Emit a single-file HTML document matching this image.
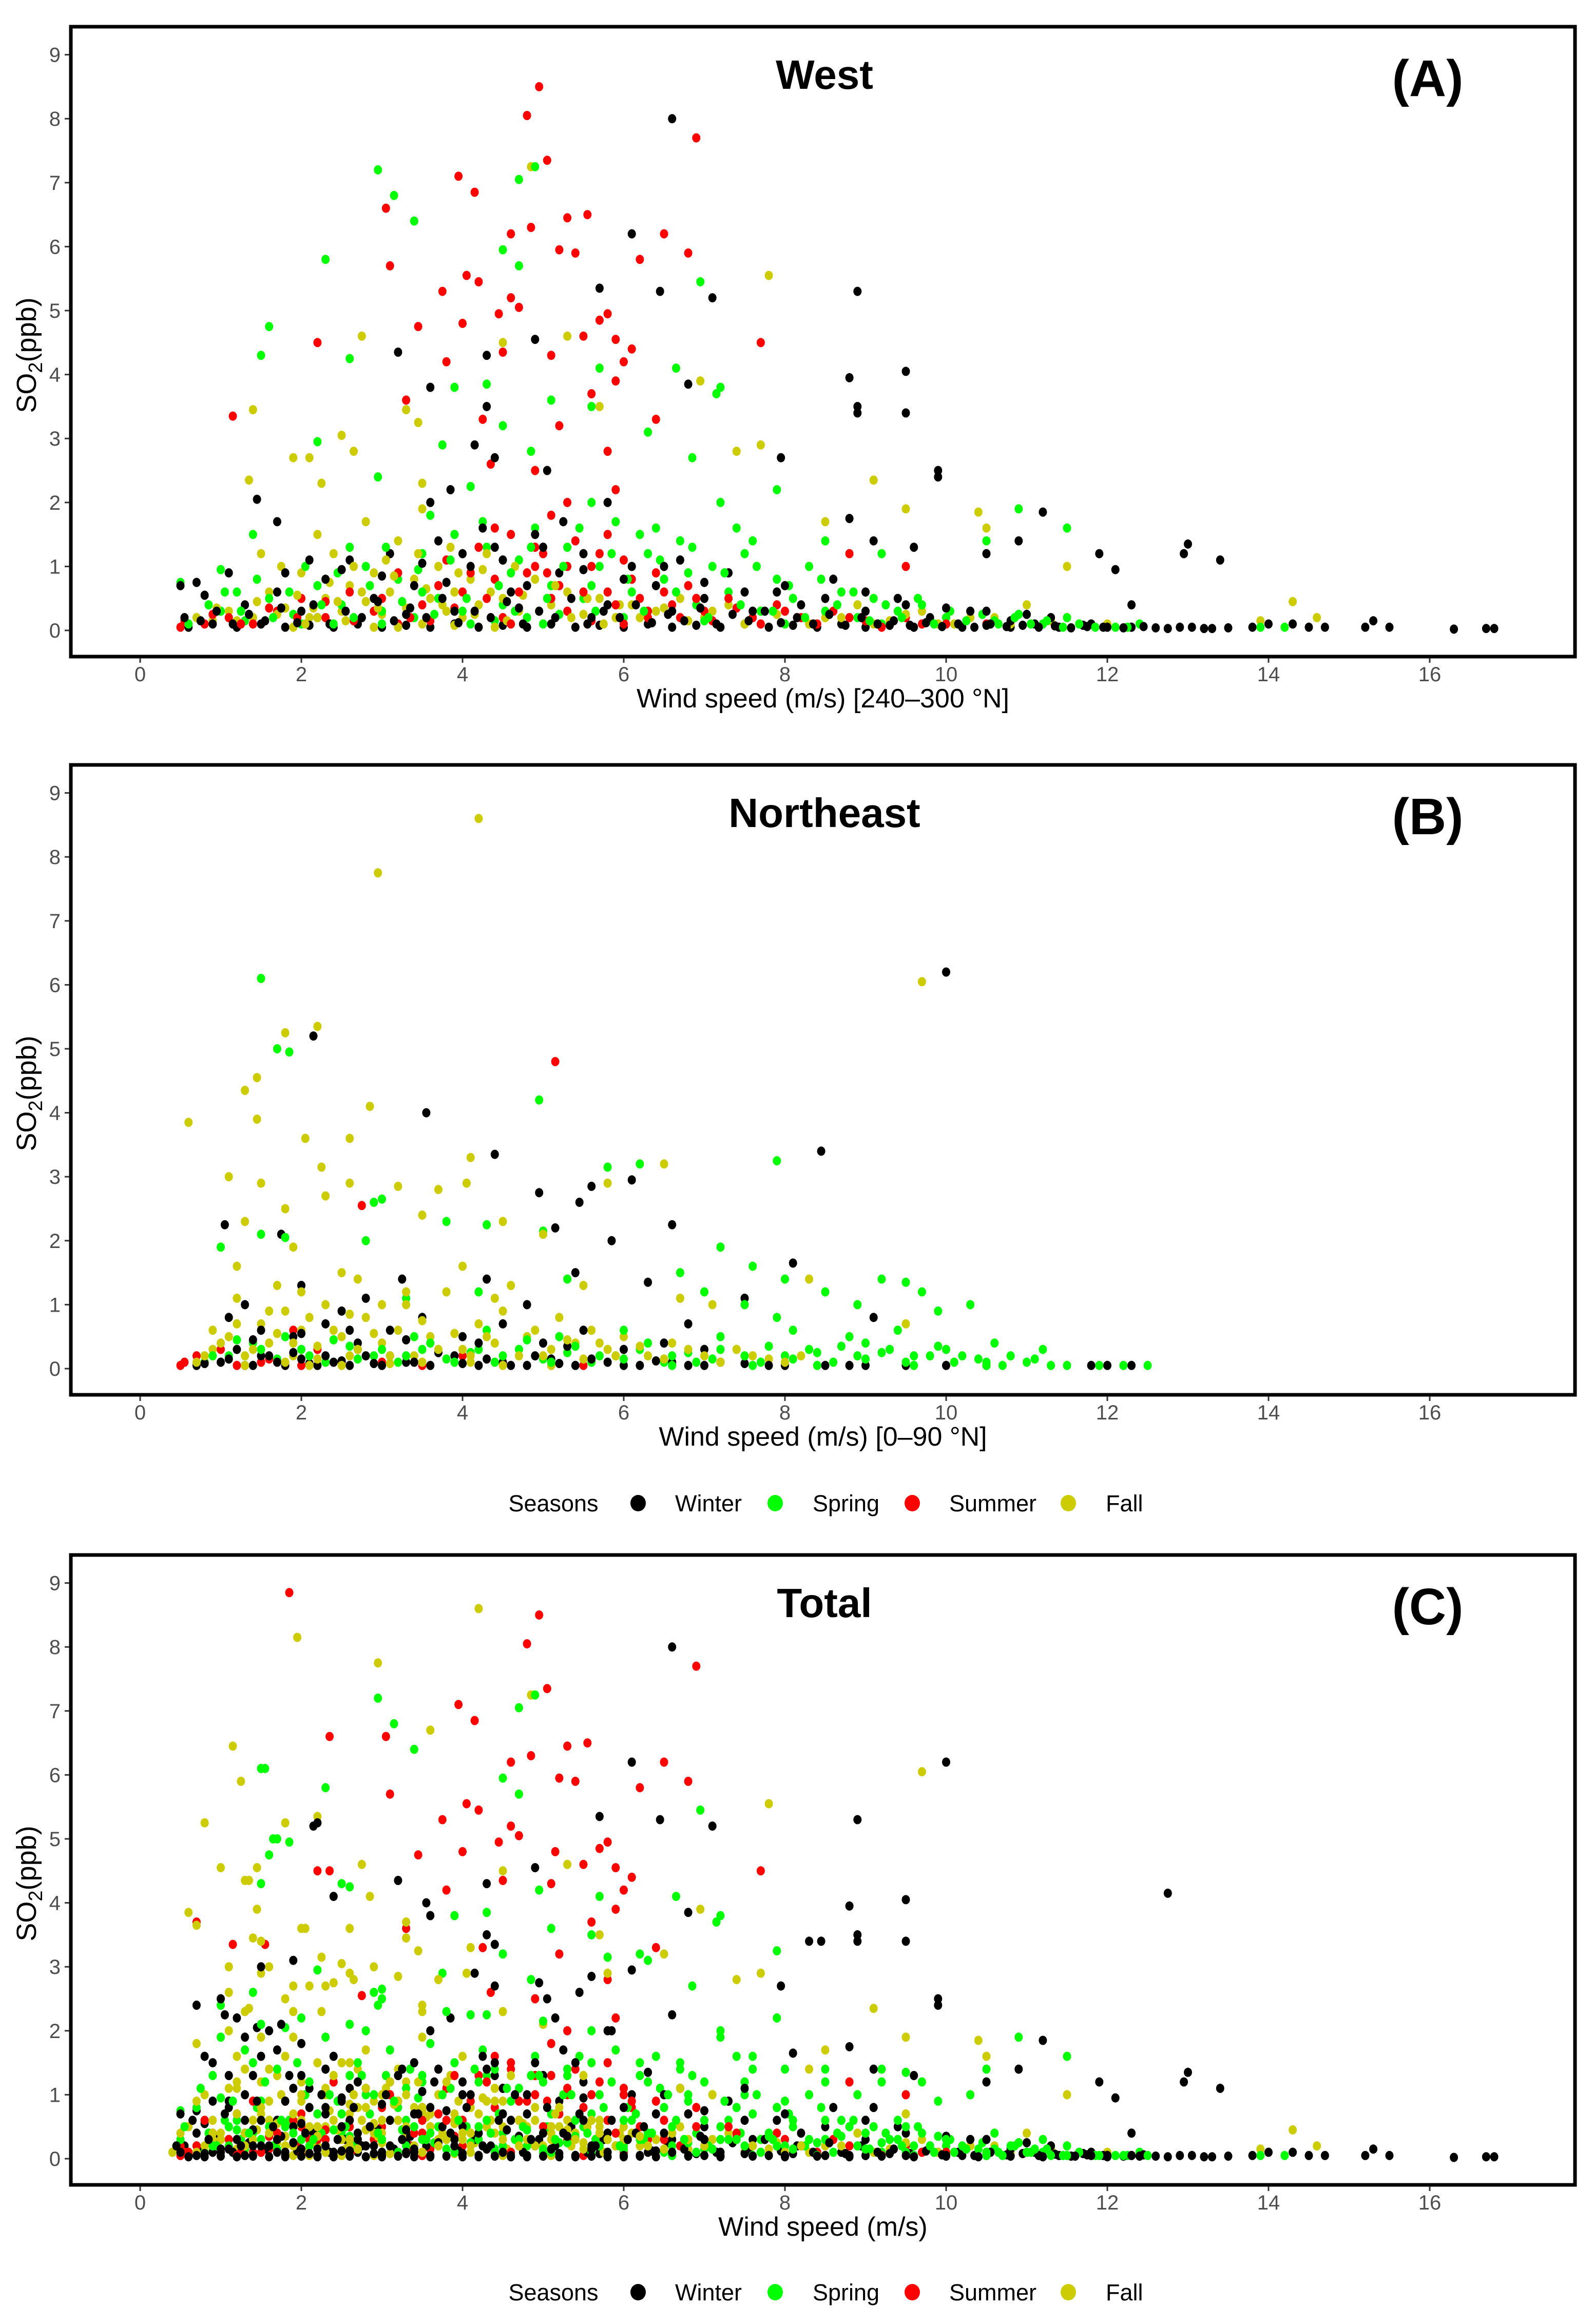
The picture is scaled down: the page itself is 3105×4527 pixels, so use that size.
<!DOCTYPE html>
<html><head><meta charset="utf-8"><style>
html,body{margin:0;padding:0;background:#fff}
svg{display:block}
text{font-family:"Liberation Sans",Arial,sans-serif}
</style></head><body>
<svg id="chart" width="3105" height="4527" viewBox="0 0 3105 4527" xmlns="http://www.w3.org/2000/svg">
<rect width="3105" height="4527" fill="#fff"/>
</svg>
<script>
// ---- data (wind speed m/s, SO2 ppb) ----
const seasons = ["Winter","Spring","Summer","Fall"];
const xTicks = [0,2,4,6,8,10,12,14,16];
const yTicks = [0,1,2,3,4,5,6,7,8,9];
const panelTitles = ["West","Northeast","Total"];
const panelTags = ["(A)","(B)","(C)"];
const xTitles = ["Wind speed (m/s) [240\u2013300 \u00b0N]","Wind speed (m/s) [0\u201390 \u00b0N]","Wind speed (m/s)"];

const winterA = "6.6 8.0;6.1 6.2;7.1 5.2;8.9 5.3;8.8 3.95;8.9 3.5;8.9 3.4;9.5 4.05;9.5 3.4;9.9 2.5;9.9 2.4;4.3 4.3;3.2 4.35;3.6 3.8;4.3 3.5;7.95 2.7;4.9 4.55;5.7 5.35;6.45 5.3;6.8 3.85;11.2 1.85;11.9 1.2;12.1 0.95;13.0 1.35;12.95 1.2;13.4 1.1;8.8 1.75;12.3 0.4;15.3 0.15;15.5 0.05;16.3 0.02;16.8 0.03;16.7 0.03;14.0 0.1;14.3 0.1;13.8 0.05;14.5 0.05;14.7 0.05;15.2 0.05;10.5 1.2;10.9 1.4;1.1 0.9;0.7 0.75;0.5 0.7;0.8 0.55;1.45 2.05;1.7 1.7;3.6 2.0;3.85 2.2;4.15 2.9;4.4 2.7;5.05 2.5;5.8 2.0;9.1 1.4;9.6 1.3;0.6 0.05;0.9 0.1;1.2 0.05;1.5 0.1;1.8 0.05;2.1 0.08;2.4 0.05;2.7 0.1;3.0 0.05;3.3 0.08;3.6 0.05;3.9 0.1;4.2 0.05;4.5 0.08;4.8 0.05;5.1 0.1;5.4 0.05;5.7 0.08;6.0 0.05;6.3 0.1;6.6 0.05;6.9 0.08;7.2 0.05;7.5 0.1;7.8 0.05;8.1 0.08;8.4 0.05;8.7 0.1;9.0 0.05;9.3 0.08;9.6 0.05;9.9 0.1;10.2 0.05;10.5 0.08;10.8 0.05;11.1 0.1;11.4 0.05;11.7 0.08;12.0 0.05;12.3 0.05;12.6 0.04;12.9 0.05;13.2 0.03;13.5 0.04;1.3 0.4;1.7 0.6;2.0 0.3;2.3 0.8;2.6 1.1;2.9 0.5;3.1 1.2;3.4 0.7;3.7 1.4;3.9 0.3;4.1 1.0;4.4 1.3;4.6 0.6;4.9 1.5;5.2 0.9;5.5 1.2;5.8 0.4;6.1 1.0;6.4 0.7;6.7 1.1;7.0 0.5;7.3 0.9;7.6 0.3;7.9 0.6;8.2 0.4;8.6 0.8;9.0 0.3;9.4 0.5;9.8 0.2;10.3 0.3;10.8 0.15;11.3 0.2;11.8 0.1;3.3 0.25;4.7 0.35;5.6 0.2;6.6 0.3;2.2 0.2";
const winterA2 = "0.55 0.2;0.75 0.15;0.95 0.3;1.15 0.1;1.35 0.25;1.55 0.15;1.75 0.35;1.95 0.12;2.15 0.4;2.35 0.1;2.55 0.3;2.75 0.2;2.95 0.45;3.15 0.15;3.35 0.35;3.55 0.2;3.75 0.5;3.95 0.12;4.15 0.3;4.35 0.2;4.55 0.45;4.75 0.1;4.95 0.3;5.15 0.2;5.35 0.5;5.55 0.1;5.75 0.3;5.95 0.2;6.15 0.4;6.35 0.12;6.55 0.25;6.75 0.15;6.95 0.35;7.15 0.1;7.35 0.25;7.55 0.15;7.75 0.3;7.95 0.12;8.15 0.2;8.35 0.1;8.55 0.25;8.75 0.08;8.95 0.2;9.15 0.1;9.35 0.15;9.55 0.08;9.75 0.12;9.95 0.06;10.15 0.1;10.35 0.05;10.55 0.1;10.75 0.06;10.95 0.08;11.15 0.05;11.35 0.07;11.55 0.04;11.75 0.06;11.95 0.05;12.2 0.04;12.45 0.06;12.75 0.03;13.05 0.05;13.3 0.03;2.5 0.95;3.0 0.85;3.5 1.05;4.0 1.2;4.5 1.1;5.0 1.3;5.5 0.95;6.0 0.8;6.5 1.0;7.0 0.75;7.5 0.6;8.0 0.7;8.5 0.5;9.0 0.6;9.5 0.4;10.0 0.35;10.5 0.3;11.0 0.25;1.8 0.9;2.1 1.1;4.25 1.6;5.25 1.7;3.8 0.75;4.8 0.7";
const springA = "2.95 7.2;3.15 6.8;3.4 6.4;4.7 7.05;4.9 7.25;2.3 5.8;1.6 4.75;1.5 4.3;2.6 4.25;5.7 4.1;6.65 4.1;7.2 3.8;7.15 3.7;6.95 5.45;4.5 5.95;4.7 5.7;3.9 3.8;4.3 3.85;4.5 3.2;5.1 3.6;3.75 2.9;4.85 2.8;5.6 3.5;6.3 3.1;2.2 2.95;2.95 2.4;4.1 2.25;6.85 2.7;7.2 2.0;7.9 2.2;10.9 1.9;10.5 1.4;11.5 1.6;1.0 0.95;1.4 1.5;0.5 0.75;8.5 1.4;9.2 1.2;13.9 0.05;14.2 0.05;12.4 0.1;0.7 0.2;1.0 0.3;1.3 0.15;1.6 0.5;1.9 0.25;2.2 0.7;2.5 0.4;2.8 1.0;3.0 0.3;3.2 0.8;3.5 1.2;3.7 0.5;3.9 1.5;4.1 0.9;4.3 1.3;4.5 0.4;4.7 1.1;4.9 1.6;5.1 0.7;5.3 1.3;5.5 0.5;5.7 1.0;5.9 1.7;6.1 0.6;6.3 1.2;6.5 0.8;6.7 1.4;6.9 0.4;7.1 1.0;7.3 0.6;7.5 1.2;7.7 0.3;7.9 0.8;8.1 0.5;8.3 1.0;8.5 0.3;8.7 0.6;8.9 0.2;9.1 0.5;9.4 0.3;9.7 0.4;10.0 0.2;10.3 0.3;10.6 0.15;10.9 0.25;11.2 0.1;11.5 0.2;11.8 0.1;12.1 0.05;2.0 0.1;3.4 0.2;4.4 0.15;5.2 0.25;6.0 0.2;7.0 0.15;8.0 0.1;9.2 0.1;1.2 0.6;2.6 1.3;3.6 1.8;4.8 0.2;6.4 1.6;5.6 2.0;7.4 1.6";
const springA2 = "0.6 0.1;0.85 0.4;1.05 0.6;1.25 0.3;1.45 0.8;1.65 0.2;1.85 0.6;2.05 1.0;2.25 0.4;2.45 0.9;2.65 0.2;2.85 0.7;3.05 1.3;3.25 0.45;3.45 0.95;3.65 0.25;3.85 1.1;4.05 0.5;4.25 1.7;4.45 0.7;4.65 0.3;4.85 1.3;5.05 0.5;5.25 1.0;5.45 1.6;5.65 0.3;5.85 1.2;6.05 0.8;6.25 0.3;6.45 1.1;6.65 0.6;6.85 1.3;7.05 0.2;7.25 0.9;7.45 0.4;7.65 1.0;7.85 0.3;8.05 0.7;8.25 0.2;8.45 0.8;8.65 0.4;8.85 0.6;9.05 0.15;9.25 0.4;9.45 0.2;9.65 0.5;9.85 0.1;10.05 0.3;10.25 0.15;10.45 0.25;10.65 0.1;10.85 0.2;11.05 0.1;11.25 0.15;11.45 0.05;11.65 0.1;11.85 0.05;12.25 0.05;3.5 0.6;4.0 0.3;4.6 0.9;5.6 0.7;6.2 1.5;6.8 0.9;7.6 1.4;5.0 0.1;4.1 0.1;3.0 0.1;2.4 0.1";
const summerA = "4.95 8.5;4.8 8.05;5.05 7.35;3.95 7.1;4.15 6.85;6.9 7.7;3.05 6.6;5.3 6.45;5.55 6.5;4.85 6.3;4.6 6.2;5.2 5.95;5.4 5.9;6.5 6.2;3.1 5.7;4.05 5.55;4.2 5.45;4.6 5.2;4.7 5.05;4.45 4.95;6.8 5.9;6.2 5.8;3.45 4.75;2.2 4.5;4.0 4.8;5.7 4.85;5.8 4.95;5.9 4.55;5.5 4.6;5.1 4.3;4.5 4.35;6.1 4.4;3.75 5.3;7.7 4.5;1.15 3.35;3.8 4.2;4.25 3.3;5.6 3.7;5.9 3.9;3.3 3.6;6.0 4.2;5.2 3.2;5.8 2.8;4.9 2.5;6.4 3.3;4.35 2.6;5.9 2.2;5.3 2.0;9.5 1.0;8.8 1.2;0.5 0.05;0.8 0.1;1.1 0.2;1.4 0.1;1.7 0.3;2.0 0.5;2.3 0.2;2.6 0.6;2.9 0.3;3.2 0.9;3.5 0.4;3.8 1.1;4.0 0.6;4.2 1.3;4.4 0.8;4.6 1.5;4.8 0.9;5.0 1.2;5.2 0.7;5.4 1.4;5.6 1.0;5.8 0.6;6.0 1.1;6.2 0.5;6.4 0.9;6.6 0.4;6.8 0.7;7.0 0.3;7.3 0.5;7.6 0.2;7.9 0.4;8.2 0.2;8.6 0.3;9.0 0.15;9.5 0.2;10.0 0.1;10.5 0.1;5.1 1.8;4.9 1.0;5.3 0.3;4.5 0.2;3.6 0.15;6.3 0.2";
const summerA2 = "0.55 0.15;0.9 0.25;1.25 0.1;1.6 0.35;1.95 0.2;2.3 0.45;2.65 0.15;3.0 0.5;3.35 0.2;3.7 0.7;3.9 0.35;4.1 0.9;4.3 0.5;4.5 1.1;4.7 0.6;4.9 1.3;5.1 0.5;5.3 1.0;5.5 0.6;5.7 1.2;5.9 0.4;6.1 0.8;6.3 0.3;6.5 0.6;6.7 0.2;6.9 0.5;7.1 0.15;7.4 0.35;7.7 0.1;8.0 0.3;8.4 0.1;8.8 0.2;9.2 0.05;9.7 0.1;4.6 0.1;5.6 0.15;6.0 0.1;3.2 0.1;5.8 1.5;4.4 1.6;5.05 0.9";
const fallA = "4.85 7.25;7.8 5.55;2.75 4.6;3.45 3.25;3.3 3.45;1.4 3.45;1.9 2.7;2.1 2.7;2.5 3.05;2.65 2.8;1.35 2.35;2.25 2.3;3.5 2.3;5.3 4.6;5.7 3.5;6.95 3.9;4.5 4.5;7.4 2.8;9.1 2.35;9.5 1.9;10.4 1.85;10.5 1.6;11.5 1.0;14.3 0.45;14.6 0.2;13.9 0.15;8.5 1.7;7.7 2.9;0.6 0.1;0.9 0.15;1.1 0.3;1.4 0.2;1.6 0.6;1.8 0.35;2.0 0.9;2.1 0.2;2.3 0.5;2.4 1.2;2.5 0.3;2.6 0.7;2.7 0.15;2.8 0.45;2.9 0.9;3.0 0.25;3.1 0.6;3.2 1.4;3.3 0.35;3.4 0.8;3.5 0.1;3.6 0.5;3.7 1.0;3.8 0.3;3.9 0.6;4.0 0.2;4.1 0.8;4.2 0.4;4.3 1.2;4.5 0.5;4.7 0.3;4.9 0.8;5.1 0.4;5.3 0.6;5.5 0.25;5.7 0.5;5.9 0.2;6.1 0.4;6.4 0.3;6.7 0.5;7.0 0.2;7.3 0.4;7.7 0.3;8.1 0.5;8.5 0.2;8.9 0.4;9.3 0.15;9.7 0.3;10.1 0.1;10.6 0.2;11.0 0.4;11.5 0.2;12.0 0.1;1.9 0.05;2.9 0.05;3.9 0.08;2.2 1.5;2.8 1.7;3.5 1.9;1.5 1.2";
const fallA2 = "0.7 0.2;0.95 0.35;1.2 0.15;1.45 0.45;1.7 0.25;1.95 0.55;2.15 0.35;2.35 0.75;2.55 0.15;2.75 0.6;2.95 0.35;3.15 0.85;3.35 0.2;3.55 0.65;3.75 0.4;3.95 0.9;4.15 0.25;4.35 0.6;4.55 0.15;4.75 0.55;4.95 0.3;5.15 0.7;5.35 0.2;5.55 0.5;5.75 0.1;5.95 0.4;6.2 0.2;6.5 0.35;6.8 0.15;7.1 0.3;7.5 0.1;7.9 0.25;8.3 0.1;8.7 0.2;9.1 0.1;9.5 0.25;9.9 0.1;10.3 0.2;10.8 0.1;11.3 0.15;2.05 0.1;2.45 0.45;2.65 1.0;3.05 1.1;3.45 1.2;3.85 1.3;4.25 0.95;4.65 1.0;1.75 1.0;2.2 0.2;3.2 0.05;4.4 0.05";

const winterB = "10.0 6.2;2.15 5.2;3.55 4.0;8.45 3.4;4.4 3.35;4.95 2.75;5.6 2.85;6.1 2.95;5.45 2.6;6.6 2.25;5.15 2.2;5.85 2.0;1.05 2.25;1.75 2.1;8.1 1.65;3.25 1.4;4.3 1.4;5.4 1.5;6.3 1.35;2.0 1.3;9.1 0.8;2.5 0.9;7.5 1.1;11.8 0.05;12.3 0.05;12.0 0.05;10.5 0.05;1.3 1.0;2.8 1.1;4.8 1.0;6.8 0.7;0.7 0.05;1.0 0.1;1.2 0.3;1.4 0.05;1.6 0.2;1.8 0.05;2.0 0.15;2.2 0.05;2.4 0.1;2.6 0.05;2.8 0.2;3.0 0.05;3.3 0.1;3.6 0.05;3.9 0.2;4.2 0.05;4.5 0.1;4.8 0.05;5.1 0.15;5.4 0.05;5.8 0.1;6.2 0.05;6.6 0.1;7.0 0.05;7.5 0.08;8.0 0.05;8.5 0.05;9.0 0.05;9.5 0.05;10.0 0.05;1.9 0.5;2.3 0.7;2.7 0.4;3.1 0.6;3.5 0.8;4.0 0.5;4.5 0.7;5.0 0.4;5.5 0.6;6.0 0.3;6.5 0.4;7.0 0.3;1.1 0.8;1.5 0.6";
const winterB2 = "0.8 0.08;1.1 0.15;1.3 0.05;1.5 0.2;1.7 0.1;1.9 0.25;2.1 0.08;2.3 0.2;2.5 0.12;2.7 0.3;2.9 0.08;3.1 0.2;3.4 0.1;3.7 0.25;4.0 0.08;4.3 0.15;4.6 0.05;4.9 0.2;5.2 0.08;5.6 0.15;6.0 0.05;6.4 0.12;6.8 0.05;7.2 0.1;7.8 0.05;8.8 0.05;1.4 0.45;2.0 0.55;2.6 0.6;3.3 0.45;4.2 0.4;5.3 0.35";
const springB = "1.5 6.1;1.7 5.0;1.85 4.95;4.95 4.2;3.0 2.65;2.9 2.6;5.8 3.15;6.2 3.2;7.9 3.25;3.8 2.3;4.3 2.25;5.0 2.15;1.0 1.9;1.5 2.1;1.8 2.05;2.8 2.0;7.2 1.9;7.6 1.6;8.0 1.4;9.2 1.4;9.5 1.35;9.7 1.2;10.3 1.0;7.0 1.2;7.5 1.0;8.5 1.2;8.9 1.0;9.9 0.9;6.7 1.5;4.2 1.2;5.3 1.4;3.3 1.1;0.8 0.1;1.1 0.2;1.4 0.4;1.7 0.15;2.0 0.3;2.3 0.1;2.6 0.35;2.9 0.2;3.2 0.1;3.5 0.3;3.8 0.15;4.1 0.25;4.4 0.1;4.7 0.3;5.0 0.15;5.3 0.25;5.6 0.1;5.9 0.2;6.2 0.3;6.5 0.1;6.8 0.25;7.1 0.15;7.4 0.3;7.7 0.1;8.0 0.2;8.3 0.3;8.6 0.1;8.9 0.2;9.2 0.25;9.5 0.1;9.8 0.2;10.1 0.1;10.4 0.15;10.7 0.05;11.0 0.1;11.3 0.05;12.5 0.05;7.2 0.5;8.1 0.6;9.0 0.4;6.0 0.6;5.2 0.5;4.3 0.6;3.4 0.5;10.0 0.3;11.2 0.3;10.5 0.05;9.6 0.05;8.4 0.05;7.6 0.05;6.6 0.05";
const springB2 = "0.9 0.2;1.2 0.45;1.5 0.3;1.8 0.5;2.1 0.2;2.4 0.45;2.7 0.15;3.0 0.3;3.3 0.2;3.6 0.4;3.9 0.1;4.2 0.3;4.5 0.2;4.8 0.45;5.1 0.1;5.4 0.35;5.7 0.2;6.0 0.15;6.3 0.4;6.6 0.2;6.9 0.1;7.2 0.3;7.5 0.2;7.8 0.35;8.1 0.15;8.4 0.25;8.7 0.35;9.0 0.15;9.3 0.3;9.6 0.2;9.9 0.35;10.2 0.2;10.5 0.1;10.8 0.2;11.1 0.15;11.5 0.05;11.9 0.05;12.2 0.05;7.9 0.8;8.8 0.5;9.4 0.6;10.6 0.4";
const summerB = "5.15 4.8;2.75 2.55;1.9 0.6;0.55 0.1;0.7 0.2;1.0 0.3;1.6 0.15;2.2 0.3;3.0 0.1;4.0 0.2;0.5 0.05;0.8 0.1;1.2 0.05;1.5 0.1;2.0 0.05;2.5 0.1;3.5 0.05;4.5 0.08;5.5 0.05";
const fallB = "4.2 8.6;2.95 7.75;9.7 6.05;2.2 5.35;1.8 5.25;1.45 4.55;1.3 4.35;1.45 3.9;0.6 3.85;2.85 4.1;2.05 3.6;2.6 3.6;1.1 3.0;2.25 3.15;2.6 2.9;3.2 2.85;3.7 2.8;4.1 3.3;4.05 2.9;6.5 3.2;5.8 2.9;2.3 2.7;1.8 2.5;1.5 2.9;1.3 2.3;4.5 2.3;3.5 2.4;5.0 2.1;1.9 1.9;1.2 1.6;2.5 1.5;4.0 1.6;5.5 1.3;6.7 1.1;3.3 1.2;7.1 1.0;8.3 1.4;9.5 0.7;2.0 1.2;3.0 1.0;4.4 1.1;0.9 0.6;0.7 0.1;0.9 0.3;1.1 0.5;1.3 0.2;1.5 0.7;1.6 0.4;1.8 0.9;1.9 0.2;2.0 0.6;2.2 0.35;2.3 1.0;2.5 0.5;2.6 0.2;2.8 0.8;3.0 0.4;3.2 0.6;3.4 0.2;3.6 0.5;3.8 1.2;4.0 0.3;4.2 0.7;4.4 0.4;4.6 1.3;4.8 0.5;5.0 0.2;5.2 0.8;5.4 0.4;5.6 0.6;5.8 0.3;6.0 0.5;6.3 0.2;6.6 0.4;7.0 0.2;7.4 0.3;7.8 0.15;8.2 0.2;1.2 1.1;1.7 1.3;2.7 1.4;3.3 1.0;2.1 0.05;3.1 0.08;4.1 0.1;5.1 0.05";
const fallB2 = "0.8 0.2;1.0 0.4;1.2 0.7;1.4 0.3;1.6 0.9;1.7 0.55;1.9 0.4;2.1 0.8;2.2 0.15;2.4 0.6;2.6 0.85;2.7 0.3;2.9 0.55;3.1 0.2;3.3 0.45;3.5 0.75;3.7 0.3;3.9 0.55;4.1 0.2;4.3 0.5;4.5 0.9;4.7 0.2;4.9 0.6;5.1 0.3;5.3 0.45;5.5 0.15;5.7 0.4;5.9 0.2;6.2 0.35;6.5 0.15;6.8 0.3;7.2 0.1;7.6 0.2;8.0 0.1;1.3 0.05;1.8 0.1;2.5 0.05;3.5 0.1;4.5 0.05";

// extra points in Total from other wind directions
const winterC = "12.75 4.15;2.2 5.25;2.4 4.1;8.3 3.4;1.9 3.1;1.5 3.0;1.0 2.5;0.7 2.4;1.3 1.9;0.5 0.1;0.7 0.4;0.9 0.9;1.1 1.3;1.3 0.6;1.5 1.6;1.7 0.3;1.9 1.1;2.1 0.8;2.3 1.4;2.5 0.5;2.7 1.2;2.9 0.2;1.0 0.15;1.4 0.2;1.8 0.1;2.2 0.15;2.6 0.12;3.0 0.1;3.4 0.15;0.8 1.6;1.2 2.2;1.6 2.0;2.0 1.8;3.2 1.3;3.6 0.8;4.0 1.0;0.6 0.03;0.8 0.03;1.0 0.04;1.2 0.03;1.4 0.04;1.6 0.03;1.8 0.03;2.0 0.04;2.2 0.03;2.4 0.03;2.6 0.04;2.8 0.03;3.0 0.03;3.2 0.04;3.4 0.03;3.6 0.03;3.8 0.04;4.0 0.03;4.2 0.03;4.4 0.04;4.6 0.03;4.8 0.03;5.0 0.04;5.2 0.03;5.4 0.03;5.6 0.04;5.8 0.03;6.0 0.03;6.2 0.04;6.4 0.03;6.8 0.04;7.2 0.03;7.6 0.04;8.0 0.03;8.4 0.04;8.8 0.03;9.2 0.04;9.6 0.03;10.0 0.04;10.4 0.03;10.8 0.04;11.2 0.03;11.6 0.04;12.0 0.03;12.4 0.04";
const winterC2 = "0.45 0.2;0.65 0.6;0.85 0.3;1.05 0.7;1.25 0.2;1.45 0.9;1.65 0.5;1.85 1.3;2.05 0.4;2.25 1.0;2.45 0.3;2.65 0.8;2.85 0.5;3.05 1.0;3.25 0.3;3.45 0.7;3.65 1.2;3.85 0.4;4.05 0.8;4.25 0.2;4.45 0.6;4.65 1.0;4.85 0.3;5.05 0.8;5.25 0.4;5.45 0.7;5.65 0.2;5.85 0.6;6.05 0.3;6.25 0.5;0.9 1.5;1.4 1.3;2.4 1.6;3.4 1.5;4.4 1.5";
const springC = "1.55 6.1;1.65 5.0;2.5 4.3;0.5 0.3;0.7 0.8;0.9 1.3;1.1 0.5;1.3 1.7;1.5 0.9;1.7 1.4;1.9 0.4;2.1 1.2;2.3 1.9;2.5 0.7;2.7 1.5;2.9 1.0;3.1 1.7;3.3 0.6;3.5 1.3;1.0 2.4;1.4 2.6;2.0 2.2;2.6 2.1;3.0 2.5;8.5 0.6;9.5 0.5;4.4 1.4;5.0 1.2;5.6 1.5;6.2 1.3;6.8 1.0;7.4 0.8;8.0 0.9;4.2 0.5;5.4 0.6;6.6 0.5;7.8 0.4";
const springC2 = "0.55 0.5;0.75 1.1;0.95 0.2;1.15 0.9;1.35 0.4;1.55 1.2;1.75 0.6;1.95 1.5;2.15 0.3;2.35 1.0;2.55 0.5;2.75 1.3;2.95 0.4;3.15 0.9;3.35 1.4;3.55 0.3;3.75 1.0;3.95 0.6;4.15 1.4;4.35 0.4;4.55 1.1;4.75 0.5;4.95 1.3;5.15 0.3;5.35 1.0;5.55 0.4;5.75 0.8;5.95 0.2;6.15 0.7;6.35 0.4;6.55 1.0;6.75 0.3;7.0 0.6;7.3 0.3;7.6 0.7;7.9 0.2";
const summerC = "1.85 8.85;2.35 6.6;2.35 4.5;0.7 3.7;1.55 3.35;0.5 0.2;0.8 0.6;1.1 0.3;1.4 0.9;1.7 0.4;2.0 0.7;2.3 0.3;2.6 0.5;3.0 0.8;3.4 0.4;3.8 0.6;4.3 1.2;4.7 0.9;5.1 1.3;5.5 0.8;6.0 1.0";
const summerC2 = "0.6 0.1;0.9 0.4;1.2 0.7;1.5 0.2;1.8 0.9;2.1 0.3;2.4 1.2;2.7 0.3;3.1 1.0;3.5 0.6;3.9 1.3;4.2 0.4;4.6 1.4;5.0 0.5;5.3 1.1;5.7 0.4;6.1 0.9;6.5 0.3;6.9 0.8;7.4 0.4";
const fallC = "1.95 8.15;1.15 6.45;1.25 5.9;0.8 5.25;1.0 4.55;1.35 4.35;0.7 3.65;1.5 3.4;2.0 3.6;1.6 3.0;1.1 2.6;2.4 2.75;2.9 3.0;3.3 3.7;3.6 6.7;0.4 0.1;0.6 0.5;0.8 1.0;1.0 0.3;1.2 1.2;1.4 0.6;1.6 1.4;1.8 0.2;2.0 1.0;2.2 0.5;2.4 1.3;2.6 0.3;2.8 1.1;3.0 0.6;3.2 0.9;0.7 1.8;1.1 2.0;1.5 1.9;1.9 2.3;3.6 0.7;4.0 0.4;4.4 0.9;4.8 0.3;5.2 0.5;2.3 0.1;2.7 0.15;3.1 0.2;3.5 0.1";
const fallC2 = "0.5 0.4;0.7 0.9;0.9 0.4;1.1 1.1;1.3 0.4;1.5 0.8;1.7 0.3;1.9 0.7;2.1 0.5;2.3 1.1;2.5 0.3;2.7 0.8;2.9 0.4;3.1 1.2;3.3 0.5;3.5 0.8;3.7 0.2;3.9 0.7;4.1 0.4;4.3 0.9;4.5 0.3;4.7 0.6;4.9 0.2;5.1 0.5;5.4 0.3;5.7 0.6;6.0 0.3;1.3 1.4;1.8 1.6;2.6 1.5";

const seasonColors = {Winter:"#000000",Spring:"#00ff00",Summer:"#ff0000",Fall:"#cccc00"};

function parse(){let out=[];for(const s of arguments){out=out.concat(s.split(";").map(p=>p.trim().split(/\s+/).map(Number)));}return out;}
const panelData = [
  {Winter:parse(winterA,winterA2),Spring:parse(springA,springA2),Summer:parse(summerA,summerA2),Fall:parse(fallA,fallA2)},
  {Winter:parse(winterB,winterB2),Spring:parse(springB,springB2),Summer:parse(summerB),Fall:parse(fallB,fallB2)}
];
panelData.push({
  Winter:panelData[0].Winter.concat(panelData[1].Winter,parse(winterC,winterC2)),
  Spring:panelData[0].Spring.concat(panelData[1].Spring,parse(springC,springC2)),
  Summer:panelData[0].Summer.concat(panelData[1].Summer,parse(summerC,summerC2)),
  Fall:panelData[0].Fall.concat(panelData[1].Fall,parse(fallC,fallC2))
});

// ---- layout ----
const NS="http://www.w3.org/2000/svg";
const svg=document.getElementById("chart");
const boxL=138, boxR=3068;
const panelTops=[52,1490,3029];
const panelNames=["panel-west","panel-northeast","panel-total"];
function mk(tag,attrs,parent){const e=document.createElementNS(NS,tag);for(const k in attrs)e.setAttribute(k,attrs[k]);(parent||svg).appendChild(e);return e;}
const xScale=v=>273+157*v;

panelTops.forEach((top,pi)=>{
  const g=mk("g",{});
  
  
  const bottom=top+1227;
  const yScale=v=>top+1176-124.6*v;
  const pg=mk("g",{},g);
  
  
  const d=panelData[pi];
  const order=["Fall","Winter","Spring","Summer"];
  const maxLen=Math.max(...order.map(s=>d[s].length));
  for(let i=0;i<maxLen;i++){
    order.forEach(s=>{
      const p=d[s][i]; if(!p) return;
      const c=mk("ellipse",{cx:xScale(p[0]).toFixed(1),cy:yScale(p[1]).toFixed(1),rx:8,ry:9,fill:seasonColors[s]},pg);
      
      
    });
  }
  const b=mk("rect",{x:boxL,y:top,width:boxR-boxL,height:bottom-top,fill:"none",stroke:"#000","stroke-width":7},g);
  
  
  yTicks.forEach(t=>{
    const y=yScale(t);
    const tk=mk("line",{x1:boxL-12,x2:boxL-3,y1:y,y2:y,stroke:"#333","stroke-width":3},g);
    
    
    const tx=mk("text",{x:boxL-20,y:y+14,"text-anchor":"end","font-size":40,fill:"#4d4d4d"},g);
    tx.textContent=t;
    
    
  });
  xTicks.forEach(t=>{
    const x=xScale(t);
    const tk=mk("line",{x1:x,x2:x,y1:bottom+3,y2:bottom+12,stroke:"#333","stroke-width":3},g);
    
    
    const tx=mk("text",{x:x,y:bottom+48,"text-anchor":"middle","font-size":40,fill:"#4d4d4d"},g);
    tx.textContent=t;
    
    
  });
  const xt=mk("text",{x:1603,y:bottom+99,"text-anchor":"middle","font-size":52,fill:"#000"},g);
  xt.textContent=xTitles[pi];
  
  
  const yc=top+640;
  const yt=mk("text",{x:0,y:0,"text-anchor":"middle","font-size":54,fill:"#000",transform:`translate(70,${yc}) rotate(-90)`},g);
  yt.innerHTML='SO<tspan font-size="38" dy="12">2</tspan><tspan dy="-12">(ppb)</tspan>';
  
  
  const tt=mk("text",{x:1606,y:top+121,"text-anchor":"middle","font-size":80,"font-weight":"bold",fill:"#000"},g);
  tt.textContent=panelTitles[pi];
  
  
  const tg=mk("text",{x:2781,y:top+135,"text-anchor":"middle","font-size":100,"font-weight":"bold",fill:"#000"},g);
  tg.textContent=panelTags[pi];
  
  
});

const legendYs=[2928,4465];
const dotX=[1243,1510,1777,2081];
const labX=[1315,1583,1849,2154];
legendYs.forEach(ly=>{
  const g=mk("g",{});
  
  
  const st=mk("text",{x:1078,y:ly+16,"text-anchor":"middle","font-size":45,fill:"#000"},g);
  st.textContent="Seasons";
  
  
  seasons.forEach((s,i)=>{
    const c=mk("ellipse",{cx:dotX[i],cy:ly,rx:15,ry:16,fill:seasonColors[s]},g);
    
    
    const t=mk("text",{x:labX[i],y:ly+16,"font-size":45,fill:"#000"},g);
    t.textContent=s;
    
    
  });
});
</script>
</body></html>
